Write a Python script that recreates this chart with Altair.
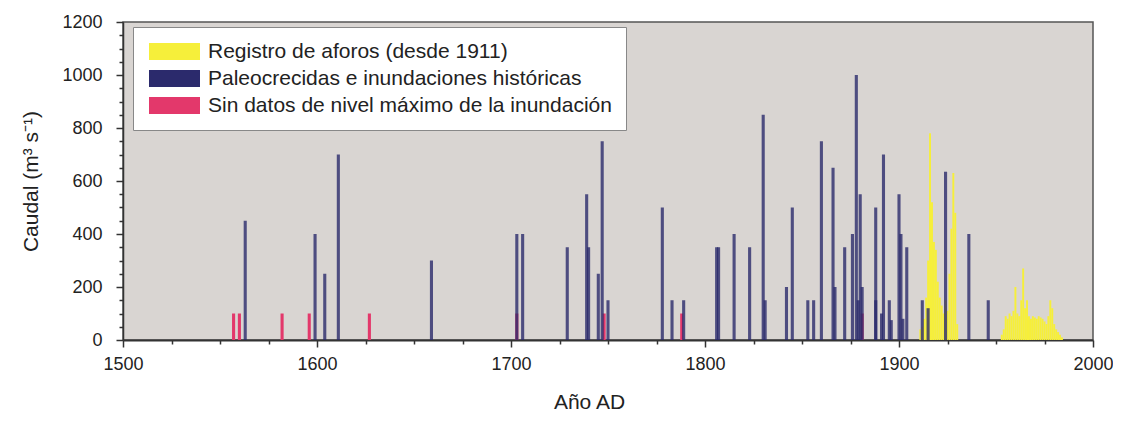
import altair as alt
import pandas as pd

SERIES = ["Registro de aforos (desde 1911)",
          "Paleocrecidas e inundaciones históricas",
          "Sin datos de nivel máximo de la inundación"]
COLORS = ["#f6ef3a", "#2b2a6c", "#e3386b"]

# Gauged annual maxima (since 1911)
gauge_years = [1911, 1912, 1913, 1914, 1915, 1916, 1917, 1918, 1919, 1920,
               1921, 1922, 1923, 1924, 1925, 1926, 1927, 1928, 1929, 1930,
               1953, 1954, 1955, 1956, 1957, 1958, 1959, 1960, 1961, 1962,
               1963, 1964, 1965, 1966, 1967, 1968, 1969, 1970, 1971, 1972,
               1973, 1974, 1975, 1976, 1977, 1978, 1979, 1980, 1981, 1982,
               1983, 1984]
gauge_q = [40, 50, 80, 160, 300, 780, 520, 370, 340, 220,
           160, 130, 100, 150, 110, 250, 420, 630, 480, 60,
           20, 40, 90, 80, 100, 90, 110, 200, 100, 90,
           150, 270, 120, 150, 90, 80, 90, 85, 80, 90,
           85, 80, 70, 60, 90, 150, 120, 60, 40, 30,
           20, 10]

# Paleofloods and historical floods
paleo_years = [1563, 1599, 1604, 1611, 1659, 1703, 1706, 1729, 1739, 1740,
               1745, 1747, 1750, 1778, 1783, 1789, 1806, 1807, 1815, 1823,
               1830, 1831, 1842, 1845, 1853, 1856, 1860, 1866, 1867, 1872,
               1876, 1878, 1879, 1880, 1881, 1888, 1888, 1891, 1892, 1895,
               1896, 1900, 1901, 1902, 1904, 1912, 1915, 1924, 1936, 1946]
paleo_q = [450, 400, 250, 700, 300, 400, 400, 350, 550, 350,
           250, 750, 150, 500, 150, 150, 350, 350, 400, 350,
           850, 150, 200, 500, 150, 150, 750, 650, 200, 350,
           400, 1000, 150, 550, 200, 500, 150, 100, 700, 150,
           75, 550, 400, 80, 350, 150, 120, 635, 400, 150]

# Floods without maximum level data
nodata_years = [1557, 1560, 1582, 1596, 1627, 1703, 1748, 1788, 1881]
nodata_q = [100, 100, 100, 100, 100, 100, 100, 100, 100]

df_g = pd.DataFrame({"year": gauge_years, "q": gauge_q, "serie": SERIES[0]})
df_p = pd.DataFrame({"year": paleo_years, "q": paleo_q, "serie": SERIES[1]})
df_n = pd.DataFrame({"year": nodata_years, "q": nodata_q, "serie": SERIES[2]})

FONT = "Liberation Sans"

x_axis = alt.Axis(
    values=list(range(1500, 2001, 25)),
    labelExpr="datum.value % 100 === 0 ? '' + datum.value : ''",
    tickSize={"condition": {"test": "datum.value % 100 === 0", "value": 7}, "value": 4},
    labelPadding=8, labelFontSize=18, labelFont=FONT, labelColor="#222",
    labelFlush=False, labelOverlap=False,
    tickColor="#333", tickWidth=1.5, domainColor="#333", domainWidth=2,
    grid=False, title="Año AD", titleFont=FONT, titleFontSize=21,
    titleFontWeight="normal", titleColor="#222", titlePadding=18, titleX=466,
)
y_axis = alt.Axis(
    values=list(range(0, 1201, 50)),
    labelExpr="datum.value % 200 === 0 ? '' + datum.value : ''",
    tickSize={"condition": {"test": "datum.value % 200 === 0", "value": 7}, "value": 4},
    labelPadding=14, labelFontSize=18, labelFont=FONT, labelColor="#222",
    labelFlush=False, labelOverlap=False,
    tickColor="#333", tickWidth=1.5, domainColor="#333", domainWidth=1.5,
    grid=False, title="Caudal (m³ s⁻¹)", titleFont=FONT, titleFontSize=21,
    titleFontWeight="normal", titleColor="#222", titlePadding=20,
)

xscale = alt.Scale(domain=[1500, 2000], nice=False, zero=False)
yscale = alt.Scale(domain=[0, 1200], nice=False)

color = alt.Color(
    "serie:N",
    scale=alt.Scale(domain=SERIES, range=COLORS),
    legend=alt.Legend(
        title=None, orient="none", legendX=10, legendY=5,
        fillColor="white", strokeColor="#888", padding=14,
        symbolType="M-1,-1H5V1H-1Z", symbolSize=289,
        symbolStrokeWidth=0, symbolOpacity=1,
        labelFont=FONT, labelFontSize=21, labelColor="#222",
        labelOffset=40, rowPadding=5, labelLimit=600,
    ),
)


def layer(df, hw, opacity):
    return alt.Chart(df).transform_calculate(
        x0=f"datum.year - {hw}", x1=f"datum.year + {hw}"
    ).mark_bar(opacity=opacity).encode(
        x=alt.X("x0:Q", scale=xscale, axis=x_axis),
        x2="x1:Q",
        y=alt.Y("q:Q", scale=yscale, axis=y_axis),
        y2=alt.datum(0),
        color=color,
    )


chart = alt.layer(
    layer(df_g, 0.5, 1.0),
    layer(df_n, 0.8, 1.0),
    layer(df_p, 0.8, 0.8),
).properties(
    width=970, height=318,
    autosize=alt.AutoSizeParams(type="none"),
    padding={"left": 115, "top": 14, "right": 20, "bottom": 76},
    background="white",
).configure_view(
    fill="#d9d5d2", stroke="#555", strokeWidth=1.5,
)

chart.save("out.html", embed_options={"renderer": "svg", "actions": False})
